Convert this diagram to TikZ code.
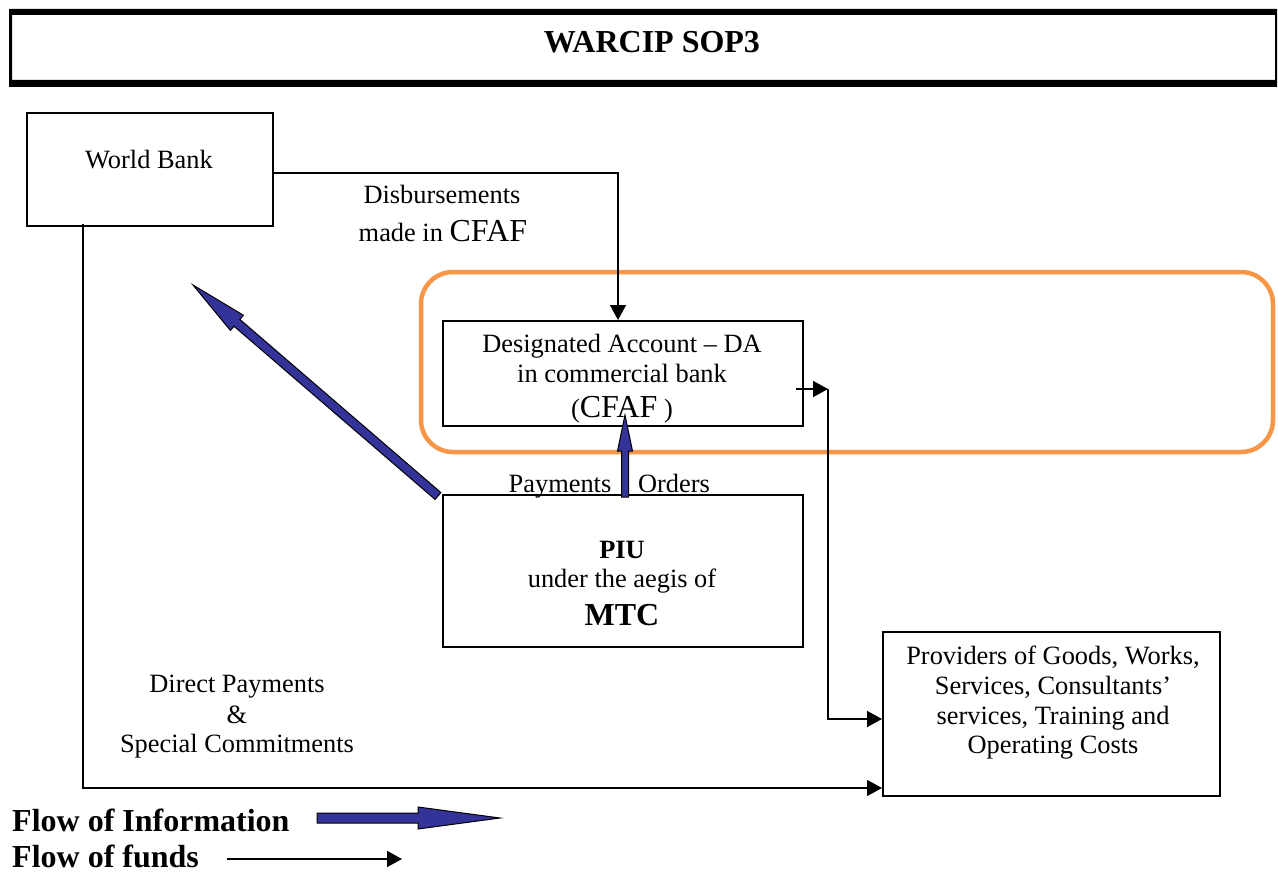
\documentclass[tikz,border=0pt]{standalone}
\usepackage{fontspec}
\setmainfont{Liberation Serif}
\usetikzlibrary{calc,arrows.meta}
\definecolor{infoblue}{RGB}{51,51,153}
\definecolor{daorange}{RGB}{247,150,70}
\newcommand\nrm{\fontsize{26.4}{30}\selectfont}
\newcommand\lrg{\fontsize{32}{36}\selectfont}
% fat "flow of information" arrow: #1 tail, #2 tip, #3 shaft half width, #4 head half width, #5 head length
\newcommand\fatarrow[5]{%
  \coordinate (fa-c) at ($(#2)!#5!(#1)$);
  \filldraw[fill=infoblue, draw=black, line width=1pt, line join=miter]
    ($(#1)!#3!90:(#2)$) -- ($(fa-c)!#3!90:(#2)$) -- ($(fa-c)!#4!90:(#2)$) -- (#2)
    -- ($(fa-c)!#4!-90:(#2)$) -- ($(fa-c)!#3!-90:(#2)$) -- ($(#1)!#3!-90:(#2)$) -- cycle;}
\begin{document}
\begin{tikzpicture}[x=1pt,y=-1pt,
  box/.style={draw=black, line width=2pt, inner sep=0pt},
  txt/.style={anchor=base, inner sep=0pt, font=\nrm},
  fund/.style={line width=1.6pt, -{Triangle[length=15pt,width=16pt]}}]
\useasboundingbox (0,0) rectangle (1278,872);
% title frame
\fill[black, even odd rule] (9,9) rectangle (1277,87) (12,15) rectangle (1275,80);
\node[txt] (title) at (652,53) {\bfseries\lrg WARCIP SOP3};
% group
\node[draw=daorange, line width=4.5pt, rounded corners=32pt, minimum width=852, minimum height=180, inner sep=0pt] (grp) at (847,362) {};
% boxes
\node[box, minimum width=246, minimum height=113] (wb) at (150,169.5) {};
\node[box, minimum width=360, minimum height=105] (da) at (623,373.5) {};
\node[box, minimum width=360, minimum height=152] (piu) at (623,571) {};
\node[box, minimum width=337, minimum height=164] (prov) at (1051.5,714) {};
% texts
\node[txt] (wbt) at (149,168) {World Bank};
\node[txt] (dis1) at (442,204) {Disbursements};
\node[txt] (dis2) at (443,241) {made in {\lrg CFAF}};
\node[txt] (da1) at (622,352) {Designated Account – DA};
\node[txt] (da2) at (622,382) {in commercial bank};
\node[txt] (da3) at (622,417) {({\lrg CFAF} )};
\node[txt] (pay) at (560,492) {Payments};
\node[txt] (ord) at (674,492) {Orders};
\node[txt] (piu1) at (622,558) {\bfseries PIU};
\node[txt] (piu2) at (622,587) {under the aegis of};
\node[txt] (piu3) at (622,625) {\bfseries\lrg MTC};
\node[txt] (pr1) at (1053,664) {Providers of Goods, Works,};
\node[txt] (pr2) at (1053,694) {Services, Consultants’};
\node[txt] (pr3) at (1053,724) {services, Training and};
\node[txt] (pr4) at (1053,753) {Operating Costs};
\node[txt] (dp1) at (237,692) {Direct Payments};
\node[txt] (dp2) at (237,723) {\&};
\node[txt] (dp3) at (237,752) {Special Commitments};
\node[txt, anchor=base west] (leg1) at (12,831) {\bfseries\lrg Flow of Information};
\node[txt, anchor=base west] (leg2) at (12,867) {\bfseries\lrg Flow of funds};
% flow of funds connectors
\draw[fund] ([yshift=-3.5]wb.east) -| ([xshift=-5]da.north);
\coordinate (daout) at ([xshift=-8,yshift=-15.5]da.east);
\coordinate (bend) at ([xshift=32]daout);
\draw[fund] (daout) -- (bend);
\draw[fund] (bend) |- ([yshift=-5]prov.west);
\draw[fund] ([xshift=-67,yshift=3]wb.south) |- ([yshift=-74]prov.west);
% flow of information arrows
\coordinate (pa) at ([xshift=2,yshift=-3]piu.north);
\coordinate (pb) at ([xshift=2,yshift=12]da.south);
\fatarrow{pa}{pb}{3.5pt}{7.5pt}{36pt}
\coordinate (ia) at ([xshift=-4,yshift=-2]piu.north west);
\coordinate (ib) at (193,285);
\fatarrow{ia}{ib}{4.5pt}{10pt}{58pt}
% legend arrows
\coordinate (l1a) at (317,818);
\coordinate (l1b) at (500,818);
\fatarrow{l1a}{l1b}{5pt}{11pt}{82pt}
\coordinate (l2a) at (227,859);
\coordinate (l2b) at (402,859);
\draw[fund] (l2a) -- (l2b);
\end{tikzpicture}
\end{document}
